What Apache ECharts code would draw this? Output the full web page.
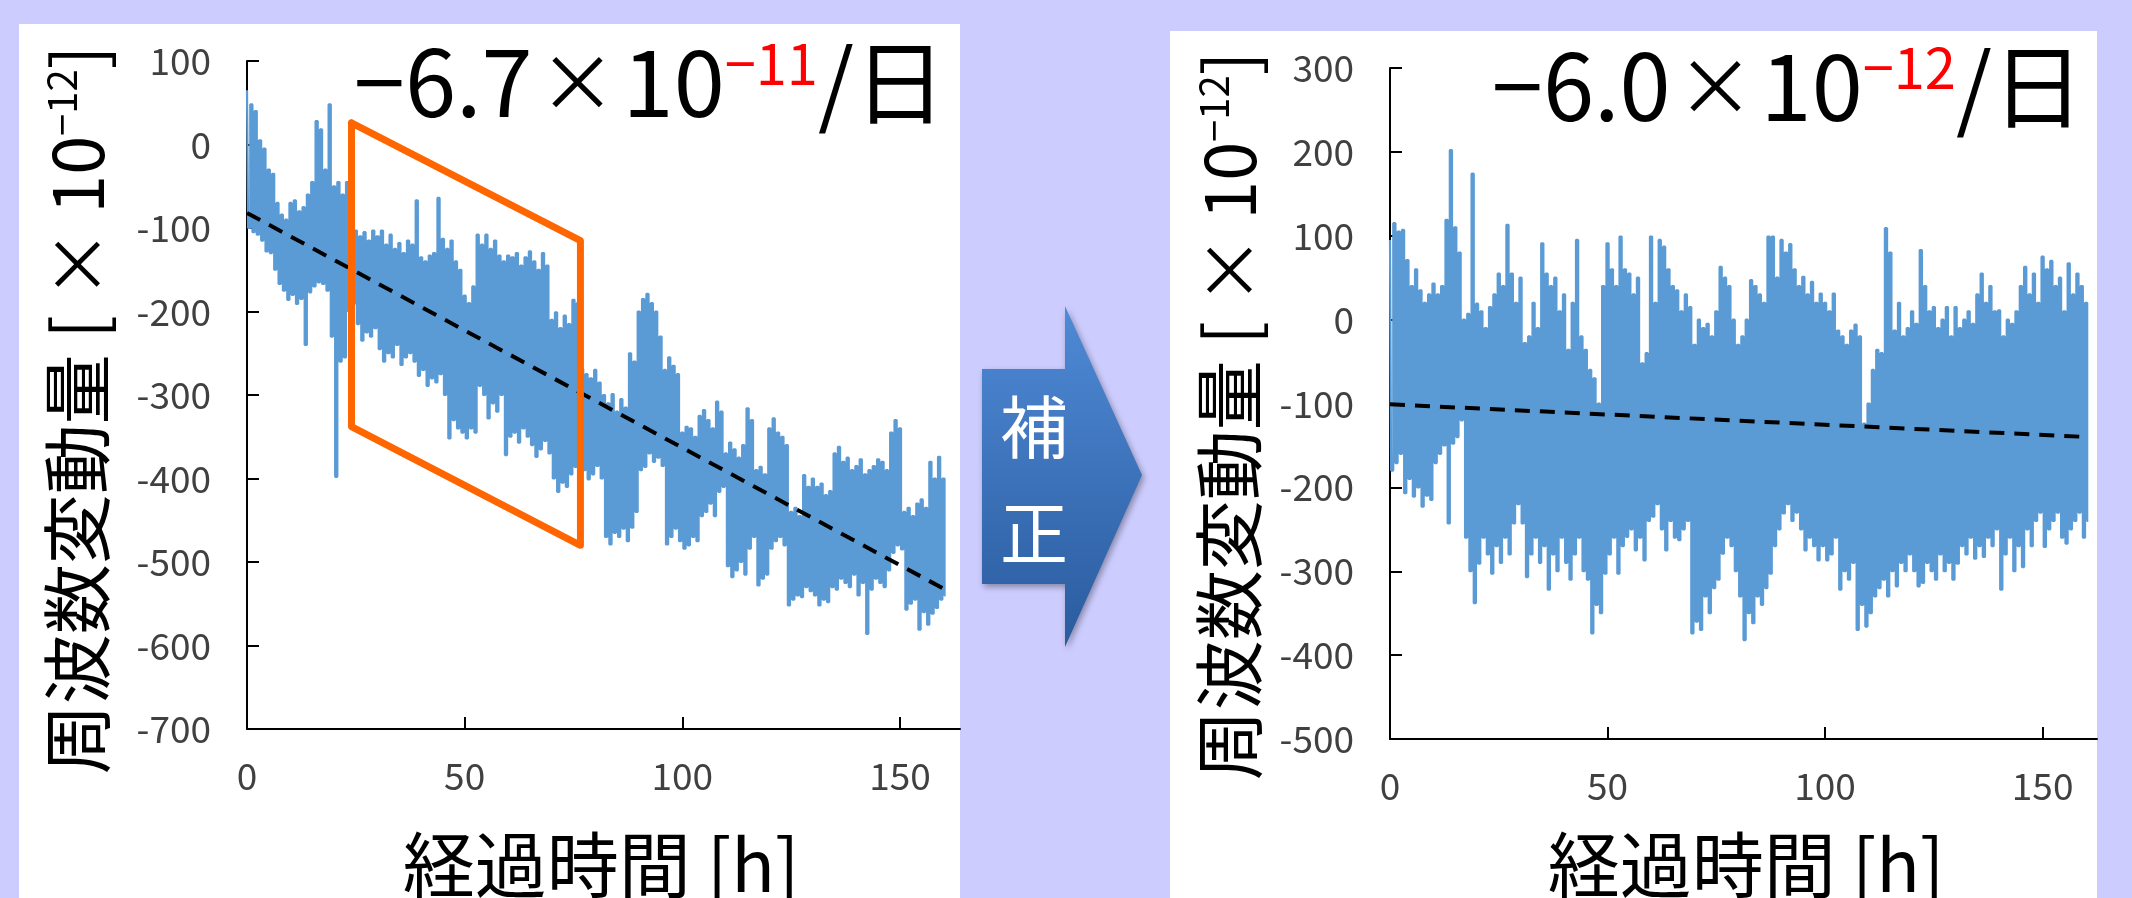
<!DOCTYPE html>
<html>
<head>
<meta charset="utf-8">
<script src="https://cdn.jsdelivr.net/npm/echarts@6.0.0/dist/echarts.min.js"></script>
<style>
  html, body { margin: 0; padding: 0; background: #ccccff; }
  #chart { width: 2132px; height: 898px; }
</style>
</head>
<body>
<div id="chart"></div>
<script>
// hourly envelope: upper and lower edge of the noisy trace
var leftHi = [65, 48, 40, 5, -5, -30, -35, -70, -84, -90,
  -70, -67, -80, -75, -60, -45, 28, 18, -30, 48,
  -50, -45, -60, -45, -50, -103, -110, -105, -115, -103,
  -110, -103, -120, -108, -125, -118, -130, -115, -120, -67,
  -135, -140, -133, -130, -64, -113, -125, -115, -140, -150,
  -181, -190, -170, -108, -120, -108, -125, -115, -133, -140,
  -133, -135, -130, -145, -135, -128, -140, -150, -130, -145,
  -210, -201, -220, -205, -215, -186, -190, -269, -275, -280,
  -270, -285, -300, -310, -299, -320, -305, -315, -250, -260,
  -200, -185, -179, -190, -200, -230, -270, -255, -265, -275,
  -345, -338, -340, -350, -325, -318, -330, -340, -308, -320,
  -370, -357, -365, -375, -360, -316, -330, -390, -386, -395,
  -340, -328, -345, -350, -360, -440, -435, -445, -396, -410,
  -400, -410, -406, -420, -415, -370, -362, -380, -375, -390,
  -385, -377, -395, -390, -385, -377, -380, -390, -345, -330,
  -340, -440, -435, -445, -430, -425, -435, -380, -400, -374,
  -400];
var leftLo = [-100, -105, -108, -115, -128, -130, -150, -167, -175, -186,
  -180, -191, -185, -240, -177, -170, -165, -167, -175, -230,
  -398, -260, -255, -200, -191, -215, -235, -225, -230, -220,
  -245, -260, -250, -255, -240, -264, -255, -250, -260, -277,
  -270, -289, -280, -285, -275, -300, -352, -330, -340, -345,
  -352, -340, -345, -289, -300, -328, -310, -320, -300, -372,
  -350, -345, -357, -340, -350, -360, -374, -365, -355, -370,
  -400, -416, -405, -410, -395, -386, -380, -390, -401, -395,
  -385, -400, -470, -479, -465, -470, -460, -475, -459, -440,
  -390, -386, -370, -380, -375, -385, -479, -470, -460, -475,
  -484, -480, -470, -475, -445, -440, -430, -445, -416, -410,
  -505, -518, -510, -500, -515, -484, -470, -528, -520, -515,
  -484, -475, -470, -480, -552, -545, -540, -542, -530, -535,
  -540, -552, -545, -548, -530, -533, -520, -525, -530, -515,
  -540, -525, -586, -533, -520, -525, -530, -510, -489, -480,
  -485, -557, -550, -545, -581, -560, -575, -562, -555, -545,
  -540];
var rightHi = [95, 115, 105, 107, 71, 40, 60, 35, 20, 30,
  43, 30, 40, 119, 202, 110, 80, 0, 7, 174,
  19, 10, -10, 15, 30, 55, 40, 113, 55, 20,
  50, -28, -20, 20, -10, 91, 55, 40, 50, 10,
  30, -36, 20, 95, -20, -36, -60, -70, -100, 40,
  91, 60, 40, 99, 60, 55, 30, 50, -52, -40,
  99, 20, 95, 87, 60, 40, 35, 10, 30, 15,
  -30, 0, -10, -5, -20, 10, 63, 50, 40, 0,
  -30, -20, 0, 47, 40, 30, 20, 99, 99, 50,
  95, 80, 90, 60, 40, 51, 30, 45, 20, 31,
  20, 10, 31, -13, -20, -30, -13, -6, -20, -124,
  -100, -60, -36, -40, 109, 80, -13, 20, -20, -10,
  10, -5, 83, 40, 10, 15, -10, 0, 15, -20,
  15, -10, 0, 10, -5, 30, 55, 20, 40, 10,
  11, -20, 0, -5, 10, 40, 63, 30, 55, 20,
  75, 60, 70, 40, 50, 10, 67, 30, 55, 40,
  20];
var rightLo = [-180, -171, -160, -207, -190, -211, -200, -223, -210, -215,
  -171, -160, -150, -243, -148, -140, -120, -260, -300, -338,
  -291, -260, -280, -303, -270, -290, -260, -280, -243, -220,
  -243, -307, -280, -260, -290, -270, -322, -280, -300, -260,
  -290, -310, -280, -260, -300, -310, -374, -340, -350, -303,
  -280, -260, -303, -270, -259, -250, -275, -260, -287, -240,
  -235, -220, -250, -275, -240, -260, -263, -250, -240, -374,
  -360, -370, -330, -350, -320, -310, -279, -260, -270, -300,
  -330, -382, -350, -362, -330, -340, -320, -303, -270, -250,
  -231, -220, -240, -230, -250, -275, -260, -270, -287, -270,
  -287, -280, -260, -322, -300, -310, -290, -370, -340, -366,
  -350, -330, -320, -310, -330, -300, -318, -290, -300, -280,
  -300, -318, -314, -290, -300, -310, -280, -300, -290, -310,
  -291, -270, -280, -260, -285, -270, -283, -260, -270, -250,
  -322, -280, -260, -300, -270, -295, -250, -270, -240, -230,
  -271, -250, -240, -230, -260, -267, -250, -240, -230, -260,
  -240];

// fitted drift lines (start / end) and the highlighted window
var leftTrend = [[0, -82], [160.4, -533]];
var rightTrend = [[0, -101], [160.5, -140]];
var boxCorners = [[24, 26], [76.6, -115], [76.6, -480], [24, -338], [24, 26]];

var xTicks = [0, 50, 100, 150];
var leftYTicks = [100, 0, -100, -200, -300, -400, -500, -600, -700];
var rightYTicks = [300, 200, 100, 0, -100, -200, -300, -400, -500];

var FONT = '"Noto Sans CJK JP", "Noto Sans", sans-serif';
var BLUE = '#5b9bd5';

// alternate the upper and lower reading every half hour so the trace fills its band
function trace(hi, lo) {
  var pts = [];
  for (var i = 0; i < hi.length; i++) {
    pts.push([i, hi[i]]);
    pts.push([i + 0.5, lo[i]]);
  }
  return pts;
}

function xAxisOf(grid, max) {
  return {
    type: 'value', gridIndex: grid, min: 0, max: max,
    axisLine: { onZero: false, lineStyle: { color: '#000', width: 2 } },
    axisTick: { inside: true, length: 12, customValues: xTicks, lineStyle: { color: '#000', width: 2 } },
    axisLabel: { customValues: xTicks, margin: 28, fontSize: 37, color: '#404040', fontFamily: FONT },
    splitLine: { show: false }
  };
}

function yAxisOf(grid, ticks) {
  return {
    type: 'value', gridIndex: grid,
    min: ticks[ticks.length - 1], max: ticks[0], interval: 100,
    axisLine: { show: true, lineStyle: { color: '#000', width: 2 } },
    axisTick: { show: true, inside: true, length: 12, lineStyle: { color: '#000', width: 2 } },
    axisLabel: { margin: 36, fontSize: 37, color: '#404040', fontFamily: FONT },
    splitLine: { show: false }
  };
}

function bigText(x, y, text, size, rot, align, rich) {
  return {
    type: 'text', x: x, y: y, rotation: rot || 0, z: 10,
    style: {
      text: text, fill: '#000', fontSize: size, fontFamily: FONT,
      align: align || 'center', verticalAlign: 'middle', rich: rich || {}
    }
  };
}

var yName = '周波数変動量 [ × 10{s|−12}]';
var supY = { s: { fontSize: 40, fontFamily: FONT, fill: '#000', verticalAlign: 'top' } };
var titleRich = {
  r: { fontSize: 56, fontFamily: FONT, fill: '#ff0000', verticalAlign: 'top' },
  x: { fontSize: 78, fontFamily: FONT, fill: '#000', padding: [0, 6, 0, 6] }
};

function traceSeries(axis, hi, lo) {
  return {
    type: 'line', xAxisIndex: axis, yAxisIndex: axis, data: trace(hi, lo),
    step: 'middle', showSymbol: false, lineStyle: { color: BLUE, width: 2.2 }, z: 2
  };
}

function trendSeries(axis, data) {
  return {
    type: 'line', xAxisIndex: axis, yAxisIndex: axis, data: data, showSymbol: false,
    lineStyle: { color: '#000', width: 4, type: [15, 10] }, z: 3
  };
}

var option = {
  backgroundColor: '#ccccff',
  animation: false,
  grid: [
    { left: 247, top: 61, width: 713, height: 668 },
    { left: 1390, top: 68, width: 707, height: 671 }
  ],
  xAxis: [xAxisOf(0, 163.8), xAxisOf(1, 162.5)],
  yAxis: [yAxisOf(0, leftYTicks), yAxisOf(1, rightYTicks)],
  series: [
    traceSeries(0, leftHi, leftLo),
    trendSeries(0, leftTrend),
    {
      type: 'line', xAxisIndex: 0, yAxisIndex: 0, data: boxCorners, showSymbol: false,
      lineStyle: { color: '#ff6600', width: 7, join: 'round', cap: 'round' }, z: 4
    },
    traceSeries(1, rightHi, rightLo),
    trendSeries(1, rightTrend)
  ],
  graphic: [
    // white panels behind the two plots
    { type: 'rect', shape: { x: 19, y: 24, width: 941, height: 880 }, style: { fill: '#fff' }, z: -10 },
    { type: 'rect', shape: { x: 1170, y: 31, width: 927, height: 880 }, style: { fill: '#fff' }, z: -10 },
    // correction arrow
    {
      type: 'polygon', z: 5,
      shape: { points: [[982, 369], [1065, 369], [1065, 306], [1142, 475], [1065, 647], [1065, 584], [982, 584]] },
      style: {
        fill: new echarts.graphic.LinearGradient(0, 0, 0, 1, [
          { offset: 0, color: '#4f8ad6' },
          { offset: 1, color: '#2a5b9e' }
        ]),
        shadowBlur: 6, shadowOffsetX: 2, shadowOffsetY: 3, shadowColor: 'rgba(0,0,0,0.35)'
      }
    },
    { type: 'text', x: 1034, y: 427, z: 10, style: { text: '補', fill: '#fff', fontSize: 68, fontFamily: FONT, align: 'center', verticalAlign: 'middle' } },
    { type: 'text', x: 1034, y: 533, z: 10, style: { text: '正', fill: '#fff', fontSize: 68, fontFamily: FONT, align: 'center', verticalAlign: 'middle' } },
    // drift rates
    bigText(946, 82, '−6.7{x|×}10{r|−11}/日', 92, 0, 'right', titleRich),
    bigText(2084, 86, '−6.0{x|×}10{r|−12}/日', 92, 0, 'right', titleRich),
    // axis titles
    bigText(77, 410, yName, 70, Math.PI / 2, 'center', supY),
    bigText(1229, 416, yName, 70, Math.PI / 2, 'center', supY),
    bigText(601, 865, '経過時間 [h]', 72),
    bigText(1746, 865, '経過時間 [h]', 72)
  ]
};

var myChart = echarts.init(document.getElementById('chart'));
myChart.setOption(option);
</script>
</body>
</html>
